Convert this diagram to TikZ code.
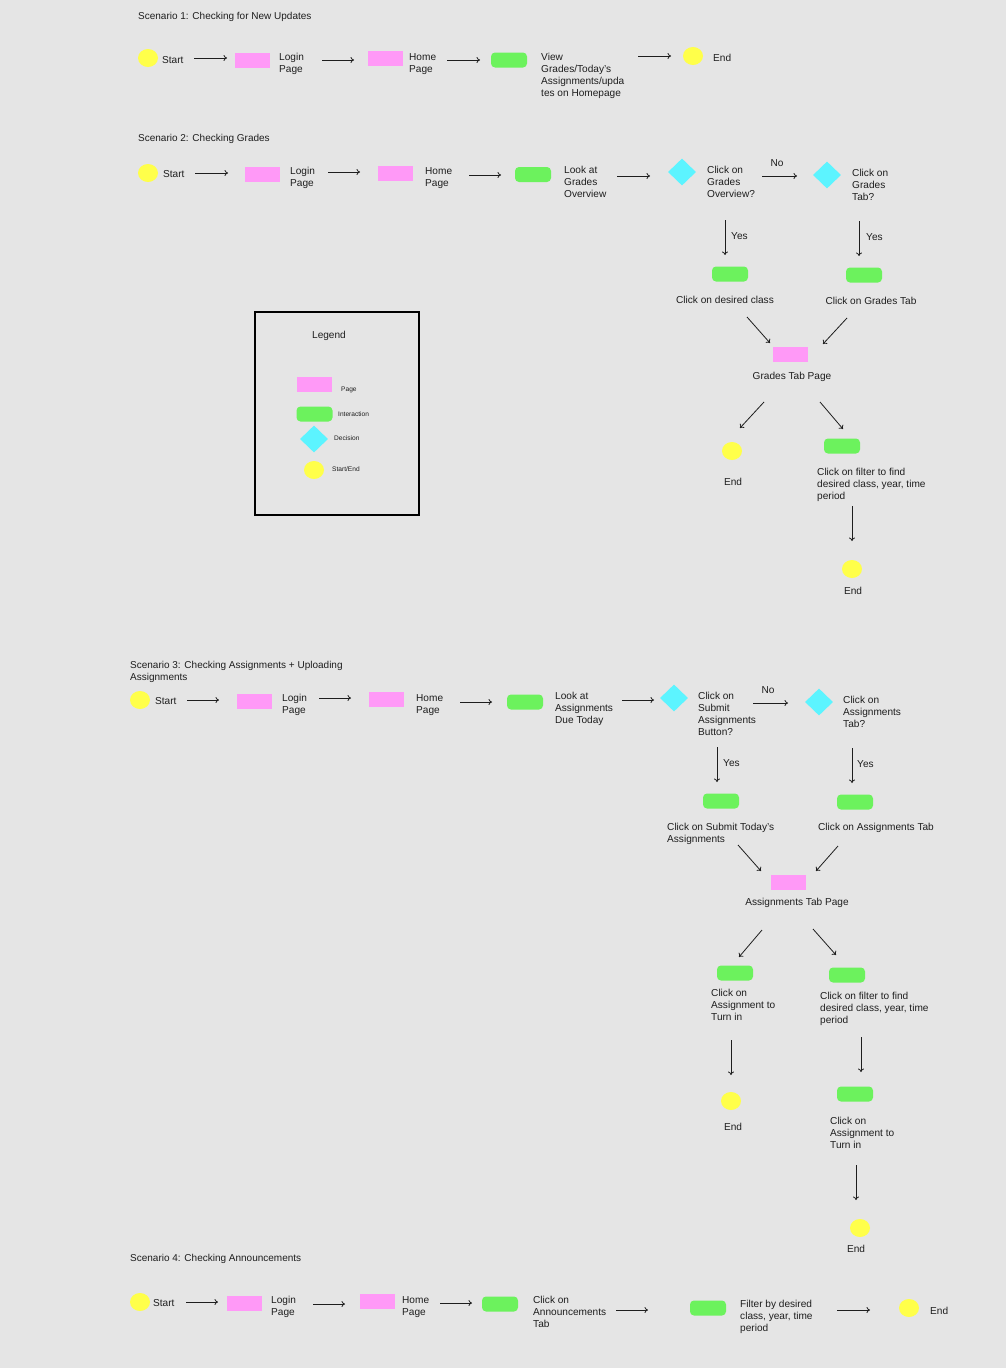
\documentclass[tikz,border=0pt]{standalone}
\usepackage{fontspec}
\setmainfont{Liberation Sans}
\usetikzlibrary{shapes.geometric,arrows.meta}
\definecolor{bg}{HTML}{E5E5E5}
\definecolor{pagec}{HTML}{FF99F7}
\definecolor{interc}{HTML}{6CF25D}
\definecolor{decc}{HTML}{5CF4FF}
\definecolor{termc}{HTML}{FFFF4A}
\definecolor{ink}{HTML}{1E1E1E}
\newcommand{\mylink}[3]{\coordinate (#1s) at (#2); \coordinate (#1e) at (#3); \draw[arr] (#1s) -- (#1e);}
\begin{document}
\begin{tikzpicture}[x=1pt,y=-1pt,
 page/.style={rectangle,fill=pagec,minimum width=35pt,minimum height=15pt,inner sep=0pt},
 inter/.style={rectangle,rounded corners=4pt,fill=interc,minimum width=36pt,minimum height=15pt,inner sep=0pt},
 dec/.style={diamond,fill=decc,minimum width=28pt,minimum height=27pt,inner sep=0pt},
 term/.style={ellipse,fill=termc,minimum width=20pt,minimum height=18pt,inner sep=0pt},
 txt/.style={inner sep=0pt,font=\fontsize{10.1}{12}\selectfont,align=left,text=ink},
 ttl/.style={inner sep=0pt,font=\fontsize{10}{12}\selectfont,align=left,text=ink},
 small/.style={inner sep=0pt,font=\fontsize{6.6}{8}\selectfont,text=ink},
 arr/.style={draw=ink,line width=0.8pt,-{To[length=3.5pt,width=6pt]}}
]
\fill[bg] (0,0) rectangle (1006,1368);
\useasboundingbox (0,0) rectangle (1006,1368);

% ---------------- Scenario 1
\node[ttl,anchor=west] (t1) at (138,16.5) {Scenario 1: Checking for New Updates};
\node[term] (a1) at (148,58) {};
\node[txt,anchor=west] (a1t) at (162,60) {Start};
\node[page] (a2) at (252.5,60) {};
\node[txt,anchor=north west] (a2t) at (279,53) {Login\\Page};
\node[page] (a3) at (385.5,58) {};
\node[txt,anchor=north west] (a3t) at (409,53) {Home\\Page};
\node[inter] (a4) at (509,60) {};
\node[txt,anchor=north west] (a4t) at (541,53) {View\\Grades/Today's\\Assignments/upda\\tes on Homepage};
\node[term] (a5) at (693,56) {};
\node[txt,anchor=west] (a5t) at (713,58) {End};
\mylink{l11}{194,58}{227,58}
\mylink{l12}{322,60}{354,60}
\mylink{l13}{447,60}{480,60}
\mylink{l14}{638,56}{671,56}

% ---------------- Scenario 2
\node[ttl,anchor=west] (t2) at (138,139) {Scenario 2: Checking Grades};
\node[term] (b1) at (148,173) {};
\node[txt,anchor=west] (b1t) at (163,174) {Start};
\node[page] (b2) at (262.5,174.5) {};
\node[txt,anchor=north west] (b2t) at (290,167) {Login\\Page};
\node[page] (b3) at (395,173) {};
\node[txt,anchor=north west] (b3t) at (425,167) {Home\\Page};
\node[inter] (b4) at (533,174.5) {};
\node[txt,anchor=north west] (b4t) at (564,166) {Look at\\Grades\\Overview};
\node[dec] (b5) at (682,172) {};
\node[txt,anchor=north west] (b5t) at (707,166) {Click on\\Grades\\Overview?};
\node[dec] (b6) at (827,175) {};
\node[txt,anchor=north west] (b6t) at (852,169) {Click on\\Grades\\Tab?};
\node[txt] (bno) at (777,163) {No};
\node[txt,anchor=west] (by1) at (731,236) {Yes};
\node[txt,anchor=west] (by2) at (866,237) {Yes};
\node[inter] (b7) at (730,274) {};
\node[txt] (b7t) at (725,300) {Click on desired class};
\node[inter] (b8) at (864,275) {};
\node[txt] (b8t) at (871,301) {Click on Grades Tab};
\node[page] (b9) at (790,354) {};
\node[txt] (b9t) at (792,377) {Grades Tab Page};
\node[term] (b10) at (732,451) {};
\node[txt] (b10t) at (733,482) {End};
\node[inter] (b11) at (842,446) {};
\node[txt,anchor=north west] (b11t) at (817,468) {Click on filter to find\\desired class, year, time\\period};
\node[term] (b12) at (852,569) {};
\node[txt] (b12t) at (853,591) {End};
\mylink{l21}{195,173}{228,173}
\mylink{l22}{328,172}{360,172}
\mylink{l23}{469,175}{501,175}
\mylink{l24}{617,176}{650,176}
\mylink{l25}{762,176}{797,176}
\mylink{l26}{725,220}{725,255}
\mylink{l27}{859,221}{859,256}
\mylink{l28}{747,317}{770,343}
\mylink{l29}{847,318}{823,344}
\mylink{l210}{764,402}{740,428}
\mylink{l211}{820,402}{843,429}
\mylink{l212}{852,506}{852,541}

% ---------------- Legend
\draw[line width=2pt,draw=black] (255,312) rectangle (419,515);
\node[txt] (lg) at (329,336) {Legend};
\node[page] (lg1) at (314.5,384.5) {};
\node[small,anchor=west] (lg1t) at (341,390) {Page};
\node[inter] (lg2) at (314.5,414) {};
\node[small,anchor=west] (lg2t) at (338,414) {Interaction};
\node[dec] (lg3) at (314,439) {};
\node[small,anchor=west] (lg3t) at (334,438) {Decision};
\node[term] (lg4) at (314,470) {};
\node[small,anchor=west] (lg4t) at (332,469) {Start/End};

% ---------------- Scenario 3
\node[ttl,anchor=north west] (t3) at (130,661) {Scenario 3: Checking Assignments + Uploading\\Assignments};
\node[term] (c1) at (140,700) {};
\node[txt,anchor=west] (c1t) at (155,701) {Start};
\node[page] (c2) at (254.5,701.5) {};
\node[txt,anchor=north west] (c2t) at (282,694) {Login\\Page};
\node[page] (c3) at (386.5,699.5) {};
\node[txt,anchor=north west] (c3t) at (416,694) {Home\\Page};
\node[inter] (c4) at (525,702) {};
\node[txt,anchor=north west] (c4t) at (555,692) {Look at\\Assignments\\Due Today};
\node[dec] (c5) at (674,698) {};
\node[txt,anchor=north west] (c5t) at (698,692) {Click on\\Submit\\Assignments\\Button?};
\node[dec] (c6) at (819,702) {};
\node[txt,anchor=north west] (c6t) at (843,696) {Click on\\Assignments\\Tab?};
\node[txt] (cno) at (768,690) {No};
\node[txt,anchor=west] (cy1) at (723,763) {Yes};
\node[txt,anchor=west] (cy2) at (857,764) {Yes};
\node[inter] (c7) at (721,801) {};
\node[txt,anchor=north west] (c7t) at (667,823) {Click on Submit Today's\\Assignments};
\node[inter] (c8) at (855,802) {};
\node[txt] (c8t) at (876,828) {Click on Assignments Tab};
\node[page] (c9) at (788,882) {};
\node[txt] (c9t) at (797,903) {Assignments Tab Page};
\node[inter] (c10) at (735,973) {};
\node[txt,anchor=north west] (c10t) at (711,989) {Click on\\Assignment to\\Turn in};
\node[inter] (c11) at (847,975) {};
\node[txt,anchor=north west] (c11t) at (820,992) {Click on filter to find\\desired class, year, time\\period};
\node[term] (c12) at (731,1101) {};
\node[txt] (c12t) at (733,1127) {End};
\node[inter] (c13) at (855,1094) {};
\node[txt,anchor=north west] (c13t) at (830,1117) {Click on\\Assignment to\\Turn in};
\node[term] (c14) at (860,1228) {};
\node[txt] (c14t) at (856,1249) {End};
\mylink{l31}{187,700}{219,700}
\mylink{l32}{319,698}{351,698}
\mylink{l33}{460,702}{492,702}
\mylink{l34}{622,700}{654,700}
\mylink{l35}{753,703}{788,703}
\mylink{l36}{717,747}{717,782}
\mylink{l37}{852,748}{852,783}
\mylink{l38}{738,845}{761,871}
\mylink{l39}{838,846}{816,871}
\mylink{l310}{762,930}{739,957}
\mylink{l311}{813,929}{836,955}
\mylink{l312}{731,1040}{731,1075}
\mylink{l313}{861,1037}{861,1072}
\mylink{l314}{856,1165}{856,1200}

% ---------------- Scenario 4
\node[ttl,anchor=west] (t4) at (130,1259) {Scenario 4: Checking Announcements};
\node[term] (d1) at (140,1302) {};
\node[txt,anchor=west] (d1t) at (153,1303) {Start};
\node[page] (d2) at (244.5,1303.5) {};
\node[txt,anchor=north west] (d2t) at (271,1296) {Login\\Page};
\node[page] (d3) at (377.5,1301.5) {};
\node[txt,anchor=north west] (d3t) at (402,1296) {Home\\Page};
\node[inter] (d4) at (500,1304) {};
\node[txt,anchor=north west] (d4t) at (533,1296) {Click on\\Announcements\\Tab};
\node[inter] (d5) at (708,1308) {};
\node[txt,anchor=north west] (d5t) at (740,1300) {Filter by desired\\class, year, time\\period};
\node[term] (d6) at (909,1308) {};
\node[txt,anchor=west] (d6t) at (930,1311) {End};
\mylink{l41}{186,1302}{218,1302}
\mylink{l42}{313,1304}{345,1304}
\mylink{l43}{440,1303}{472,1303}
\mylink{l44}{616,1310}{648,1310}
\mylink{l45}{837,1310}{870,1310}
\end{tikzpicture}
\end{document}
